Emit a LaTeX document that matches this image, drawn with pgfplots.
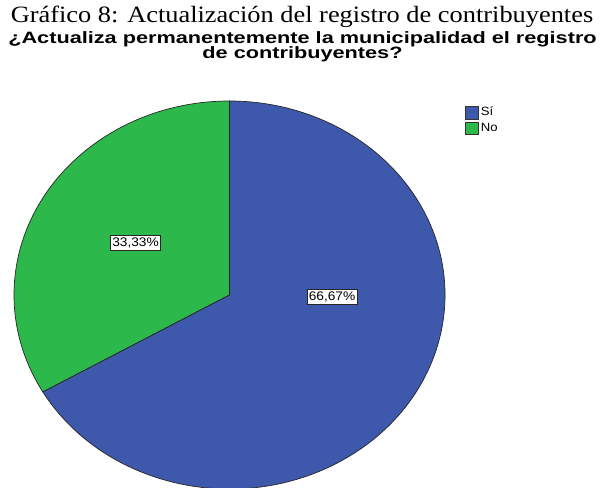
\documentclass[border=0pt]{standalone}
\usepackage{pgfplots}
\pgfplotsset{compat=1.18}
\usepackage{pgfplotstable}
\usepackage{graphicx}
\usepackage{fontspec}
\setmainfont{Liberation Serif}
\setsansfont{Liberation Sans}
\definecolor{siblue}{HTML}{3E58AC}
\definecolor{nogreen}{HTML}{2DB84B}
\pgfplotstableread{
cat pct
Si 66.67
No 33.33
}\piedata
\begin{document}
\begin{tikzpicture}
\useasboundingbox (0,0) rectangle (603bp,488bp);
\pgfplotstablegetelem{0}{pct}\of\piedata \let\pctSi\pgfplotsretval
\pgfplotstablegetelem{1}{pct}\of\piedata \let\pctNo\pgfplotsretval
\pgfmathsetmacro{\endNo}{90+3.6*\pctNo}
\pgfmathsetmacro{\endSi}{\endNo+3.6*\pctSi}
\pgfmathsetmacro{\bx}{229.5+215.5*cos(\endNo)}
\pgfmathsetmacro{\by}{193+194*sin(\endNo)}
\begin{axis}[
  at={(0,0)}, anchor=south west,
  scale only axis, width=603bp, height=488bp,
  xmin=0, xmax=603, ymin=0, ymax=488,
  hide axis, clip=true,
  legend style={at={(axis cs:465,383)}, anchor=north west, draw=none, fill=none,
    font=\sffamily\fontsize{12}{12}\selectfont, inner sep=0pt, row sep=1.5bp,
    /tikz/every even column/.append style={column sep=1bp}},
  legend cell align=left,
  legend image code/.code={\draw[#1] (0bp,-6.5bp) rectangle (13bp,6bp);},
]
\addlegendimage{fill=siblue, draw=black!80, line width=0.6bp}
\addlegendentry{\scalebox{1.1}[1]{Sí}}
\addlegendimage{fill=nogreen, draw=black!80, line width=0.6bp}
\addlegendentry{\scalebox{1.1}[1]{No}}
\filldraw[fill=nogreen, draw=black!85, line width=0.7bp]
  (axis cs:229.5,193) -- (axis cs:229.5,387)
  arc[start angle=90, end angle=\endNo, x radius=215.5bp, y radius=194bp] -- cycle;
\filldraw[fill=siblue, draw=black!85, line width=0.7bp]
  (axis cs:229.5,193) -- (axis cs:\bx,\by)
  arc[start angle=\endNo, end angle=\endSi, x radius=215.5bp, y radius=194bp] -- cycle;
\node[draw=black!85, fill=white, font=\sffamily\fontsize{12.5}{13}\selectfont, inner xsep=1.8bp, inner ysep=2.2bp, line width=0.6bp]
  at (axis cs:135.5,245) {\scalebox{1.1}[1]{33,33\%}};
\node[draw=black!85, fill=white, font=\sffamily\fontsize{12.5}{13}\selectfont, inner xsep=1.8bp, inner ysep=2.2bp, line width=0.6bp]
  at (axis cs:332,191) {\scalebox{1.1}[1]{66,67\%}};
\node[font=\fontsize{23.5}{24}\selectfont] at (axis cs:302,471) {\scalebox{1.127}[1]{Gráfico 8: Actualización del registro de contribuyentes}};
\node[font=\sffamily\bfseries\fontsize{16.5}{17}\selectfont, inner sep=0pt] at (axis cs:302.5,449)
  {\scalebox{1.32}[1]{¿Actualiza permanentemente la municipalidad el registro}};
\node[font=\sffamily\bfseries\fontsize{16.5}{17}\selectfont, inner sep=0pt] at (axis cs:302.5,433.5)
  {\scalebox{1.32}[1]{de contribuyentes?}};
\end{axis}
\end{tikzpicture}
\end{document}
